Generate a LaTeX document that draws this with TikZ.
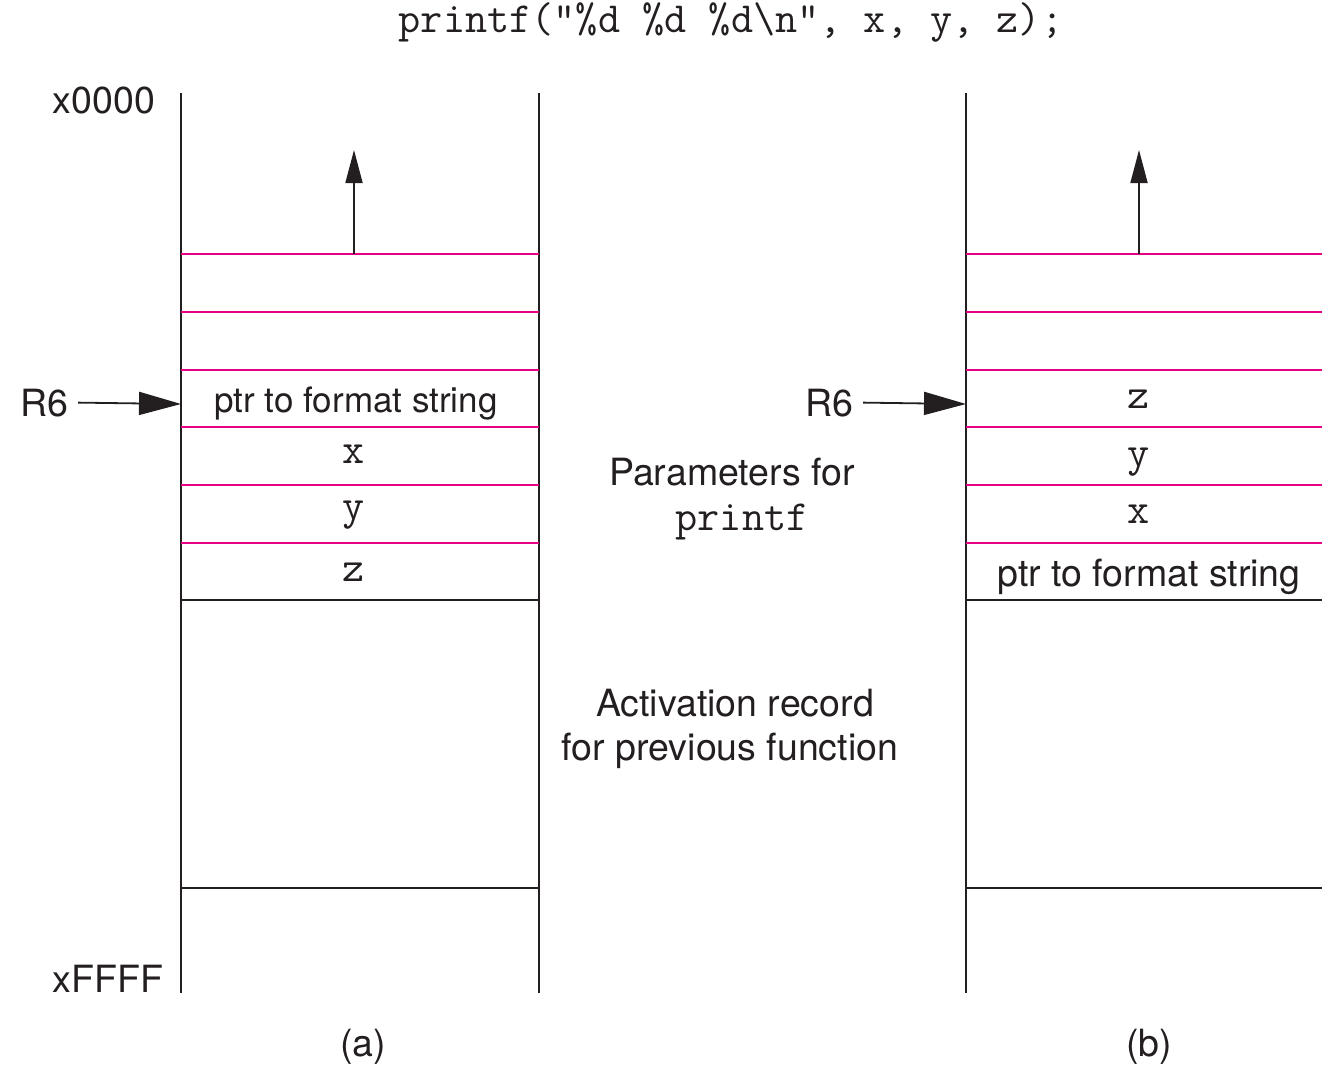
\documentclass[tikz,border=0pt]{standalone}
\usepackage{fontspec}
\setmainfont{TeX Gyre Heros}
\usetikzlibrary{arrows.meta}
\definecolor{slotline}{RGB}{232,0,132}
\definecolor{ink}{RGB}{35,31,32}
\begin{document}
\begin{tikzpicture}[x=1pt,y=-1pt,
  frame/.style={draw=ink, line width=2pt},
  slot/.style={draw=slotline, line width=2.2pt},
  lbl/.style={anchor=base, inner sep=0pt, text=ink, font=\fontsize{37.5}{45}\selectfont},
  small/.style={lbl, font=\fontsize{35}{42}\selectfont},
  code/.style={anchor=base, inner sep=0pt, text=ink, font=\fontsize{43}{50}\selectfont\ttfamily},
  sp/.style={draw=ink, line width=1.8pt, -{Triangle[length=42pt,width=23pt]}},
  growth/.style={draw=ink, line width=1.8pt, -{Triangle[length=33pt,width=17pt]}}]
\useasboundingbox (0,0) rectangle (1322,1065);

% call being made
\node[code] (call) at (731,33) {printf("\%d \%d \%d\textbackslash n", x, y, z);};

% ---- stack (a) ----
\node[lbl] (top) at (104,113) {x0000};
\node[lbl] (bot) at (108,992) {xFFFF};
\draw[frame] (181,93) -- (181,993);
\draw[frame] (539,93) -- (539,993);
\foreach \y in {254,312,370,427,485,543}
  \draw[slot] (181,\y) -- (539,\y);
\draw[frame] (181,600) -- (539,600);
\draw[frame] (181,888) -- (539,888);
\coordinate (aBase) at (354,254);
\coordinate (aTip) at (354,150);
\draw[growth] (aBase) -- (aTip);
\node[small] (aFmt) at (356,412) {ptr to format string};
\node[code] (aX) at (354,463) {x};
\node[code] (aY) at (354,519) {y};
\node[code] (aZ) at (354,581) {z};
\node[lbl] (r6a) at (44,416) {R6};
\coordinate (aSP) at (181,404);
\draw[sp] ([xshift=10pt]r6a.east) -- (aSP);
\node[lbl] (capA) at (363,1056) {(a)};

% ---- labels between the stacks ----
\node[lbl] (par1) at (732,485) {Parameters for};
\node[code] (par2) at (742,530) {printf};
\node[lbl] (act1) at (735,716) {Activation record};
\node[lbl] (act2) at (730,760) {for previous function};

% ---- stack (b) ----
\draw[frame] (966,93) -- (966,993);
\foreach \y in {254,312,370,427,485,543}
  \draw[slot] (966,\y) -- (1322,\y);
\draw[frame] (966,600) -- (1322,600);
\draw[frame] (966,888) -- (1322,888);
\coordinate (bBase) at (1139,254);
\coordinate (bTip) at (1139,150);
\draw[growth] (bBase) -- (bTip);
\node[code] (bZ) at (1139,408) {z};
\node[code] (bY) at (1139,466) {y};
\node[code] (bX) at (1139,523) {x};
\node[lbl] (bFmt) at (1149,586) {ptr to format string};
\node[lbl] (r6b) at (829,416) {R6};
\coordinate (bSP) at (966,404);
\draw[sp] ([xshift=10pt]r6b.east) -- (bSP);
\node[lbl] (capB) at (1149,1056) {(b)};
\end{tikzpicture}
\end{document}
